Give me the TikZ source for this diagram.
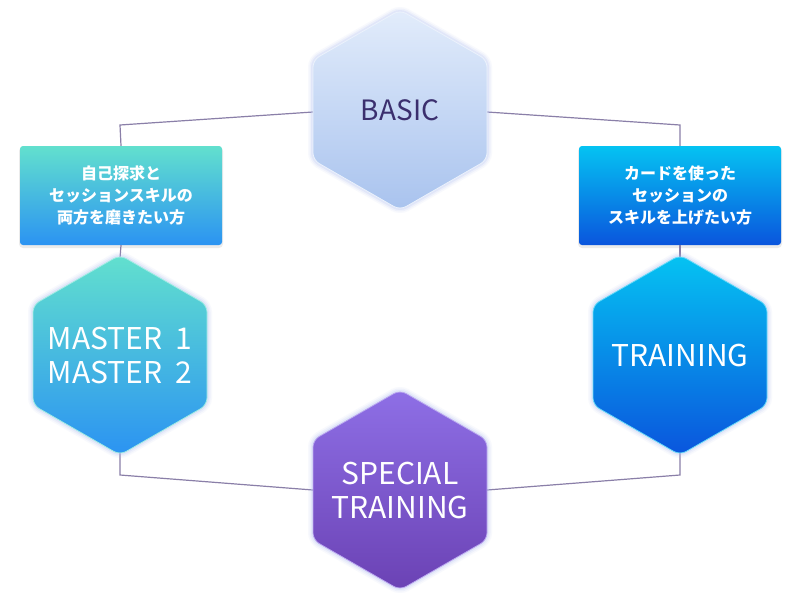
\documentclass[tikz,border=0pt]{standalone}
\usepackage{fontspec}
\setmainfont{Noto Sans CJK JP}
\usetikzlibrary{calc}
\definecolor{lineC}{HTML}{8A7FA8}
\definecolor{basicT}{HTML}{E2ECFB}\definecolor{basicB}{HTML}{A9C3EE}
\definecolor{masT}{HTML}{62E0CE}\definecolor{masB}{HTML}{2B93F2}
\definecolor{trT}{HTML}{05C3F2}\definecolor{trB}{HTML}{0A55DD}
\definecolor{spT}{HTML}{8E6FE6}\definecolor{spB}{HTML}{6B42B4}
\definecolor{basicTxt}{HTML}{3B2F6E}
\definecolor{glowC}{HTML}{A8B8F0}
\newcommand{\hexpath}[1]{($(#1)+(0,-100)$) -- ($(#1)+(87,-50)$) -- ($(#1)+(87,50)$) -- ($(#1)+(0,100)$) -- ($(#1)+(-87,50)$) -- ($(#1)+(-87,-50)$) -- cycle}
\newcommand{\myhex}[4]{%
  \foreach \w/\o in {10/0.08,7/0.12,4/0.18}{\draw[glowC,opacity=\o,line width=\w pt,rounded corners=7pt] \hexpath{#1};}
  \shade[top color=#2,bottom color=#3,rounded corners=7pt,draw=#4,line width=0.8pt] \hexpath{#1};}
\tikzset{
  conn/.style={draw=lineC,line width=1.2pt},
  box/.style={rounded corners=3pt,minimum width=202pt,minimum height=99pt,inner sep=0pt,text=white,font=\bfseries\fontsize{16}{22}\selectfont,align=center},
  big/.style={text=white,font=\fontsize{30}{34}\selectfont,align=center}
}
\begin{document}
\begin{tikzpicture}[x=1pt,y=-1pt]
\useasboundingbox (0,0) rectangle (800,600);
\fill[white] (0,0) rectangle (800,600);
\coordinate (cb) at (400,110);
\coordinate (cm) at (120,355);
\coordinate (ct) at (680,355);
\coordinate (cs) at (400,490);
\coordinate (bl) at (313,112);
\coordinate (br) at (487,112);
\coordinate (sl) at (313,490);
\coordinate (sr) at (487,490);
\coordinate (k1) at (120,125);\coordinate (k2) at (680,125);
\coordinate (k3) at (120,475);\coordinate (k4) at (680,475);
\fill[black,opacity=0.08,rounded corners=4pt] (19,147) rectangle (223,248);
\fill[black,opacity=0.08,rounded corners=4pt] (578,147) rectangle (782,248);
\node[box,top color=masT,bottom color=masB] (lb) at (121,195.5) {自己探求と\\セッションスキルの\\両方を磨きたい方};
\node[box,top color=trT,bottom color=trB] (rb) at (680,195.5) {カードを使った\\セッションの\\スキルを上げたい方};
\draw[conn] (bl) -- (k1) -- (lb.north);
\draw[conn] (br) -- (k2) -- (rb.north);
\draw[conn] (lb.south) -- (120,258);
\draw[conn] (rb.south) -- (680,258);
\draw[conn] (120,452) -- (k3) -- (sl);
\draw[conn] (680,452) -- (k4) -- (sr);
\myhex{cb}{basicT}{basicB}{basicT!70!white}
\myhex{cm}{masT}{masB}{masT!60!white}
\myhex{ct}{trT}{trB}{trT!60!white}
\myhex{cs}{spT}{spB}{spT!60!white}
\node[font=\fontsize{28}{30}\selectfont,text=basicTxt] (nb) at (cb) {BASIC};
\node[big] (nm) at (cm) {MASTER\ \ 1\\MASTER\ \ 2};
\node[big] (nt) at (ct) {TRAINING};
\node[big] (ns) at (cs) {SPECIAL\\TRAINING};
\end{tikzpicture}
\end{document}
